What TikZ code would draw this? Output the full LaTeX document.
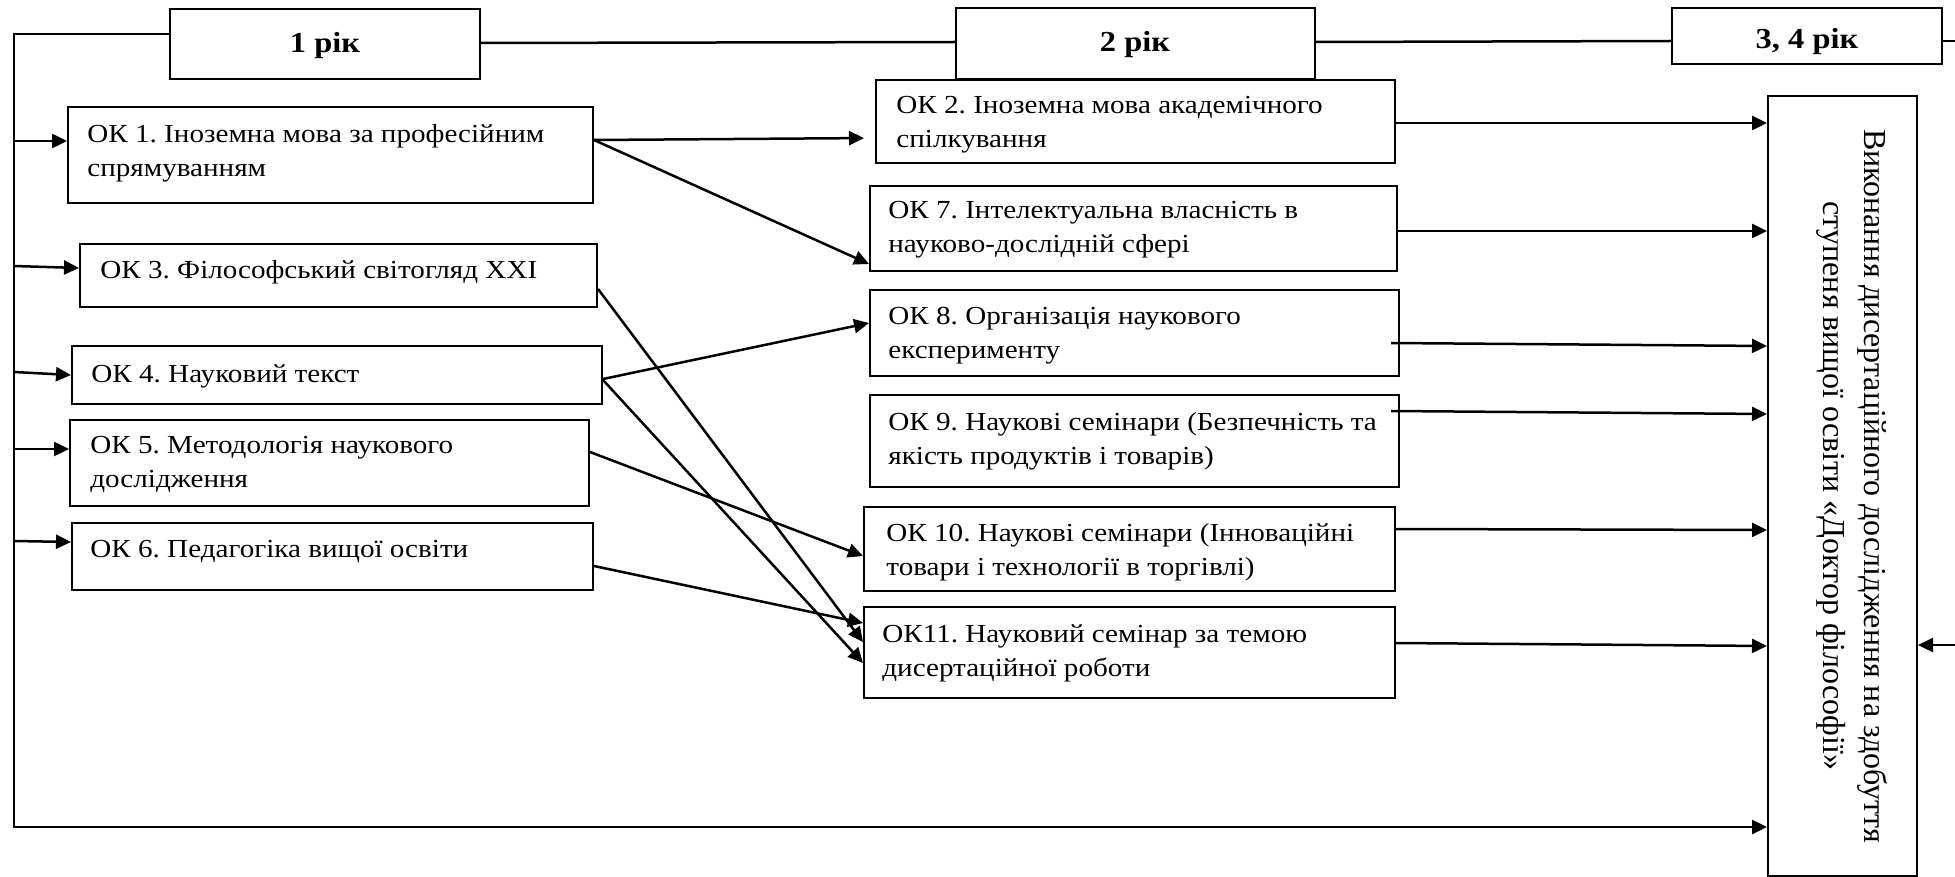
\documentclass[tikz,border=0pt]{standalone}
\usepackage{fontspec}
\setmainfont{Liberation Serif}[FakeStretch=1.12]
\newfontfamily\rotfont{Liberation Serif}
\usetikzlibrary{arrows.meta}
\newcommand\twoln[2]{\vtop{\hbox{#1}\hbox{#2}}}
\frenchspacing
\begin{document}
\begin{tikzpicture}[x=0.5pt,y=-0.5pt,
  box/.style={draw, line width=1pt, inner sep=0pt},
  conn/.style={line width=1.25pt},
  arr/.style={conn, -{Triangle[length=7.5pt,width=7pt]}},
  txt/.style={inner sep=0pt, anchor=base west, font=\fontsize{13}{17}\selectfont},
  yeart/.style={inner sep=0pt, anchor=base, font=\fontsize{14.5}{16}\selectfont\bfseries}]
\useasboundingbox (0,0) rectangle (1955,877);
% year boxes
\node[box, minimum width=155pt, minimum height=35pt] (r1) at (325,44) {};
\node[box, minimum width=179.5pt, minimum height=35.5pt] (r2) at (1135.5,43.5) {};
\node[box, minimum width=135pt, minimum height=28pt] (r34) at (1807,36) {};
\node[yeart] (r1t) at (325,53) {1 рік};
\node[yeart] (r2t) at (1135,52) {2 рік};
\node[yeart] (r34t) at (1807,49) {3, 4 рік};
% left column
\node[box, minimum width=262.5pt, minimum height=48pt, anchor=north west] (ok1) at (67,106) {};
\node[box, minimum width=258.5pt, minimum height=31.5pt, anchor=north west] (ok3) at (79,243) {};
\node[box, minimum width=265pt, minimum height=29pt, anchor=north west] (ok4) at (71,345) {};
\node[box, minimum width=259.5pt, minimum height=43pt, anchor=north west] (ok5) at (69,419) {};
\node[box, minimum width=260.5pt, minimum height=33.5pt, anchor=north west] (ok6) at (71,522) {};
% middle column
\node[box, minimum width=259.5pt, minimum height=41.5pt, anchor=north west] (ok2) at (875,79) {};
\node[box, minimum width=263.5pt, minimum height=42.5pt, anchor=north west] (ok7) at (869,185) {};
\node[box, minimum width=264.5pt, minimum height=43pt, anchor=north west] (ok8) at (869,289) {};
\node[box, minimum width=264.5pt, minimum height=46pt, anchor=north west] (ok9) at (869,394) {};
\node[box, minimum width=265.5pt, minimum height=42pt, anchor=north west] (ok10) at (863,506) {};
\node[box, minimum width=265.5pt, minimum height=45.5pt, anchor=north west] (ok11) at (863,606) {};
% big box
\node[box, minimum width=74.5pt, minimum height=390pt, anchor=north west] (big) at (1767,95) {};
% texts
\node[txt] (ok1t) at (87,143) {\twoln{ОК 1. Іноземна мова за професійним}{спрямуванням}};
\node[txt] (ok3t) at (100,279) {ОК 3. Філософський світогляд XXI};
\node[txt] (ok4t) at (91,382) {ОК 4. Науковий текст};
\node[txt] (ok5t) at (90,453) {\twoln{ОК 5. Методологія наукового}{дослідження}};
\node[txt] (ok6t) at (90,557) {ОК 6. Педагогіка вищої освіти};
\node[txt] (ok2t) at (896,114) {\twoln{ОК 2. Іноземна мова академічного}{спілкування}};
\node[txt] (ok7t) at (888,219) {\twoln{ОК 7. Інтелектуальна власність в}{науково-дослідній сфері}};
\node[txt] (ok8t) at (888,325) {\twoln{ОК 8. Організація наукового}{експерименту}};
\node[txt] (ok9t) at (888,430) {\twoln{ОК 9. Наукові семінари (Безпечність та}{якість продуктів і товарів)}};
\node[txt] (ok10t) at (886,541) {\twoln{ОК 10. Наукові семінари (Інноваційні}{товари і технології в торгівлі)}};
\node[txt] (ok11t) at (882,642) {\twoln{ОК11. Науковий семінар за темою}{дисертаційної роботи}};
\node[rotate=-90, align=center, inner sep=0pt, font=\rotfont\fontsize{16}{20.5}\selectfont] (bigt) at (1852,486)
  {Виконання дисертаційного дослідження на здобуття\\ступеня вищої освіти «Доктор філософії»};
% spine
\coordinate (tl) at (14,34);
\coordinate (bl) at (14,827);
\draw[arr] (r1.west |- tl) -- (tl) -- (bl) -- (big.west |- bl);
\draw[arr] (14,141) -- (ok1.west |- 0,141);
\draw[arr] (14,266) -- (ok3.west |- 0,268);
\draw[arr] (14,372) -- (ok4.west |- 0,375);
\draw[arr] (14,449) -- (ok5.west |- 0,449);
\draw[arr] (14,541) -- (ok6.west |- 0,542);
% top line
\draw[conn] (r1.east |- 0,43) -- (r2.west |- 0,42);
\draw[conn] (r2.east |- 0,42) -- (r34.west |- 0,41);
\draw[conn] (r34.east |- 0,41) -- (1955,41);
% cross arrows
\draw[arr, shorten >=5.5pt] (ok1.east |- 0,140) -- (ok2.west |- 0,138);
\draw[arr] (ok1.east |- 0,140) -- (ok7.west |- 0,264);
\draw[arr] (ok3.east |- 0,289) -- (ok11.west |- 0,642);
\draw[arr] (ok4.east |- 0,379) -- (ok8.west |- 0,323);
\draw[arr] (ok4.east |- 0,380) -- (ok11.west |- 0,663);
\draw[arr] (ok5.east |- 0,452) -- (ok10.west |- 0,556);
\draw[arr] (ok6.east |- 0,566) -- (ok11.west |- 0,623);
% to big box
\draw[arr] (ok2.east |- 0,123) -- (big.west |- 0,123);
\draw[arr] (ok7.east |- 0,231) -- (big.west |- 0,231);
\draw[arr] (1391,343) -- (big.west |- 0,346);
\draw[arr] (1391,411) -- (big.west |- 0,414);
\draw[arr] (ok10.east |- 0,529) -- (big.west |- 0,530);
\draw[arr] (ok11.east |- 0,643) -- (big.west |- 0,646);
\draw[arr] (1955,645) -- (big.east |- 0,645);
\end{tikzpicture}
\end{document}
